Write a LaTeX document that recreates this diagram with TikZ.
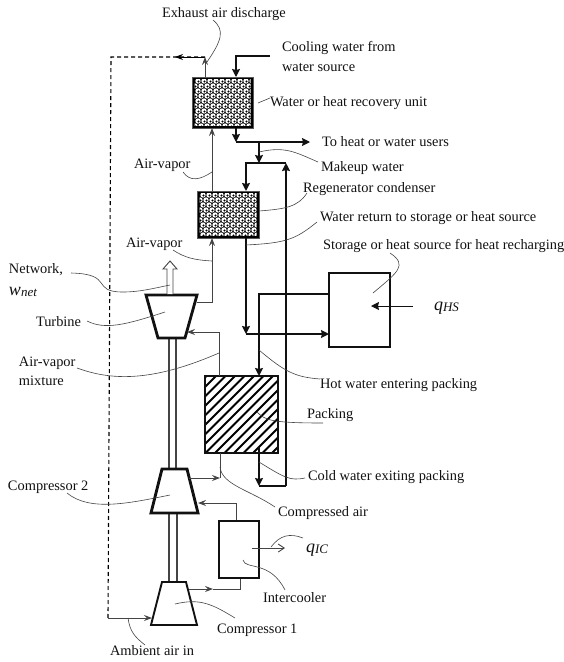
\documentclass[tikz,border=0pt]{standalone}
\usepackage{fontspec}
\setmainfont{Liberation Serif}
\usetikzlibrary{arrows.meta}
\definecolor{ink}{HTML}{111111}
\definecolor{thin}{HTML}{444444}
\tikzset{
  lab/.style={anchor=base west,inner sep=0pt,outer sep=0pt,font=\fontsize{14.4}{16}\selectfont,text=ink},
  mathlab/.style={anchor=base west,inner sep=0pt,outer sep=0pt,text=ink},
  leader/.style={draw=thin,line width=0.6pt},
  thinflow/.style={draw=thin,line width=0.9pt},
  thickflow/.style={draw=ink,line width=1.9pt},
  midflow/.style={draw=ink,line width=1.3pt},
  dashline/.style={draw=black,line width=1.1pt,dash pattern=on 4pt off 3pt},
  tipthin/.style={-{Stealth[length=8pt,width=6pt,inset=3pt]}},
  tipfat/.style={-{Stealth[length=8pt,width=8pt,inset=1pt]}},
  boxa/.style={draw=ink,line width=1.8pt,fill=white},
}
\begin{document}
\begin{tikzpicture}[x=1pt,y=-1pt]
\useasboundingbox (0,0) rectangle (564,662);
% --- textured units
\foreach \xa/\ya/\xb/\yb in {192/77/253/128,197/191/259/238}{
  \fill[black] (\xa,\ya) rectangle (\xb,\yb);
  \begin{scope}
    \clip (\xa+2.5,\ya+2.5) rectangle (\xb-2.5,\yb-2.5);
    \foreach \r in {0,...,10}{
      \pgfmathsetmacro{\off}{mod(\r,2)*3}
      \foreach \c in {0,...,11}{
        \fill[white] (\xa+\c*6+\off,\ya+4+\r*5.0) circle (2.7pt);
        \fill[black] (\xa+\c*6+\off+0.5,\ya+4.5+\r*5.0) circle (1.2pt);
      }
    }
  \end{scope}
  \draw[ink!70,line width=0.8pt] (\xa,\ya) rectangle (\xb,\yb);
}
\coordinate (hxT1) at (205,77);
\coordinate (hxT2) at (236,77);
\coordinate (hxB2) at (236,128);
\coordinate (hxB1) at (212,128);
\coordinate (rgT1) at (212,191);
\coordinate (rgT2) at (246,191);
\coordinate (rgB1) at (212,238);
\coordinate (rgB2) at (246,238);
% --- packing
\begin{scope}
  \clip (205,376) rectangle (278,453);
  \fill[white] (205,376) rectangle (278,453);
  \foreach \k in {0,...,19}{
    \draw[black,line width=2pt] (115+\k*9.5,458) -- (115+\k*9.5+90,368);
  }
\end{scope}
\draw[ink,line width=1.7pt] (205,376) rectangle (278,453);
\coordinate (pkT1) at (219,376);
\coordinate (pkT2) at (259,376);
\coordinate (pkB1) at (220,453);
\coordinate (pkB2) at (259,447);
% --- storage and intercooler
\node[boxa,minimum width=61pt,minimum height=74pt,inner sep=0pt] (store) at (359.5,310) {};
\node[boxa,line width=1.6pt,minimum width=40pt,minimum height=57pt,inner sep=0pt] (inter) at (239,549.5) {};
% --- shafts
\coordinate (shA1) at (169,338);\coordinate (shA2) at (169,469);
\coordinate (shB1) at (176,338);\coordinate (shB2) at (176,469);
\coordinate (shC1) at (169,513);\coordinate (shC2) at (169,582);
\coordinate (shD1) at (177,513);\coordinate (shD2) at (177,582);
\draw[thinflow,line width=1.2pt] (shA1)--(shA2) (shB1)--(shB2) (shC1)--(shC2) (shD1)--(shD2);
% --- machines
\draw[draw=ink,line width=2.8pt,line join=miter,fill=white] (146,295)--(197,295)--(185,338)--(158,338)--cycle;
\draw[draw=ink,line width=2.8pt,line join=miter,fill=white] (162,469)--(187,469)--(198,513)--(151,513)--cycle;
\draw[draw=ink,line width=1.9pt,line join=miter,fill=white] (162,582)--(186,582)--(197,625)--(151,625)--cycle;
% --- network arrow
\draw[draw=thin,line width=0.9pt,fill=white] (167,294)--(167,269)--(163,269)--(170,261)--(177,269)--(173,269)--(173,294);
% --- dashed return
\coordinate (dTL) at (111,57);
\coordinate (dBL) at (108,618);
\coordinate (exT) at (205,57);
\coordinate (dM) at (175,57);
\draw[dashline] (exT)--(dTL)--(dBL);
\draw[draw=black,line width=0.9pt,tipthin] (exT)--(dM);
\draw[thinflow,tipthin] (hxT1)--(exT);
% --- ambient
\coordinate (c1in) at (152,618);
\draw[thinflow,tipthin] (dBL)--(c1in);
% --- cooling
\coordinate (cwA) at (270,56);\coordinate (cwB) at (236,56);
\draw[midflow,tipfat] (cwA)--(cwB)--(hxT2);
% --- below recovery unit
\coordinate (jA) at (236,142);\coordinate (jB) at (259,142);\coordinate (usr) at (310,142);
\coordinate (mk) at (259,163);
\draw[midflow,tipfat] (hxB2)--(jA);
\draw[midflow,tipfat] (jA)--(usr);
\draw[midflow,tipfat] (jB)--(mk);
% --- thick loop
\coordinate (lpTL) at (246,163);\coordinate (lpTR) at (286,163);
\coordinate (lpBR) at (286,486);\coordinate (lpBL) at (259,486);
\draw[thickflow,tipfat] (lpTR)--(lpTL)--(rgT2);
\draw[thickflow,tipfat] (lpBR)--(lpTR);
\draw[thickflow] (lpBL)--(lpBR);
\draw[thickflow,tipfat] (pkB2)--(lpBL);
% --- storage circuit
\coordinate (rtJ) at (246,334);\coordinate (hotC) at (259,294);
\coordinate (stL1) at (329,294);\coordinate (stL2) at (329,334);
\draw[thickflow,tipfat] (rgB2)--(rtJ);
\draw[thickflow,tipfat] (rtJ)--(stL2);
\draw[thickflow,tipfat] (stL1)--(hotC)--(pkT2);
% --- heat input
\coordinate (qsA) at (413,306);\coordinate (qsB) at (371,306);
\draw[midflow,draw=ink,line width=1pt,tipfat] (qsA)--(qsB);
% --- air path
\draw[thinflow,tipthin] (rgT1)--(hxB1);
\coordinate (tbIn) at (197,302);\coordinate (tbK) at (212,302);
\draw[thinflow,tipthin] (tbIn)--(tbK)--(rgB1);
\coordinate (mxK) at (219,332);\coordinate (mxE) at (187,332);
\draw[thinflow,tipthin] (pkT1)--(mxK)--(mxE);
\coordinate (c2out) at (189,478);\coordinate (c2m) at (220,478);
\draw[thinflow,tipthin] (c2out)--(c2m);
\draw[thinflow] (pkB1)--(c2m);
\coordinate (c1out) at (189,589);\coordinate (c1m) at (213,589);\coordinate (c1k) at (240,589);
\draw[thinflow,tipthin] (c1out)--(c1m);
\draw[thinflow] (c1m)--(c1k)--(inter.south -| c1k);
\coordinate (icK) at (236,503);\coordinate (c2in) at (198,503);
\draw[thinflow,tipthin] (inter.north -| icK)--(icK)--(c2in);
\coordinate (qiA) at (252,548);\coordinate (qiB) at (285,548);
\draw[thinflow,-{Straight Barb[length=6pt,width=8pt]}] (qiA)--(qiB);
% --- leaders
\draw[leader] (213,20) .. controls (225,30) and (222,40) .. (207,62);
\draw[leader] (258,103) -- (270,98);
\draw[leader] (183,172) .. controls (190,182) and (200,180) .. (212,172);
\draw[leader] (259,152) .. controls (285,146) and (295,152) .. (318,162);
\draw[leader] (259,211) .. controls (285,209) and (298,207) .. (307,193);
\draw[leader] (246,245) .. controls (285,243) and (295,240) .. (317,222);
\draw[leader] (173,250) .. controls (185,258) and (195,260) .. (212,261);
\draw[leader] (71,273) .. controls (115,274) and (90,292) .. (123,292) .. controls (140,292) and (155,288) .. (170,285);
\draw[leader] (87,321) .. controls (105,330) and (125,325) .. (165,312);
\draw[leader] (77,368) .. controls (110,380) and (150,383) .. (219,353);
\draw[leader] (390,253) .. controls (408,265) and (398,272) .. (373,293);
\draw[leader] (259,350) .. controls (285,372) and (295,377) .. (320,379);
\draw[leader] (257,412) .. controls (265,420) and (270,423) .. (323,423);
\draw[leader] (259,462) .. controls (285,478) and (290,481) .. (305,478);
\draw[leader] (220,467) .. controls (222,485) and (250,490) .. (275,507);
\draw[leader] (67,493) .. controls (90,512) and (130,503) .. (170,495);
\draw[leader] (175,604) .. controls (200,598) and (212,604) .. (235,618);
\draw[leader] (243,560) .. controls (245,570) and (270,560) .. (285,590);
\draw[leader] (128,618) .. controls (130,632) and (135,637) .. (145,645);
\draw[leader] (271,547) .. controls (280,535) and (290,533) .. (303,538);
% --- labels
\node[lab] (t1) at (162,17) {Exhaust air discharge};
\node[lab] (t2) at (282,51) {Cooling water from};
\node[lab] (t3) at (282,71) {water source};
\node[lab] (t4) at (270,106) {Water or heat recovery unit};
\node[lab] (t5) at (322,146) {To heat or water users};
\node[lab] (t6) at (321,171) {Makeup water};
\node[lab] (t7) at (303,192) {Regenerator condenser};
\node[lab] (t8) at (320,221) {Water return to storage or heat source};
\node[lab] (t9) at (323,249) {Storage or heat source for heat recharging};
\node[lab] (t10) at (134,168) {Air-vapor};
\node[lab] (t11) at (126,247) {Air-vapor};
\node[lab] (t12) at (9,273) {Network,};
\node[mathlab] (t13) at (9,295) {\fontsize{18}{18}\selectfont\itshape w\kern0.2pt\fontsize{13}{13}\selectfont\raisebox{-1.5pt}{net}};
\node[lab] (t14) at (36,326) {Turbine};
\node[lab] (t15) at (19,366) {Air-vapor};
\node[lab] (t16) at (19,385) {mixture};
\node[lab] (t17) at (320,388) {Hot water entering packing};
\node[lab] (t18) at (307,418) {Packing};
\node[lab] (t19) at (308,480) {Cold water exiting packing};
\node[lab] (t20) at (8,490) {Compressor 2};
\node[lab] (t21) at (278,516) {Compressed air};
\node[lab] (t22) at (263,602) {Intercooler};
\node[lab] (t23) at (217,633) {Compressor 1};
\node[lab] (t24) at (110,655) {Ambient air in};
\node[mathlab] (t25) at (306,552) {\fontsize{18}{18}\selectfont\itshape q\fontsize{13}{13}\selectfont\raisebox{-1.5pt}{IC}};
\node[mathlab] (t26) at (434,310) {\fontsize{18}{18}\selectfont\itshape q\fontsize{13}{13}\selectfont\raisebox{-1.5pt}{HS}};
\end{tikzpicture}
\end{document}
